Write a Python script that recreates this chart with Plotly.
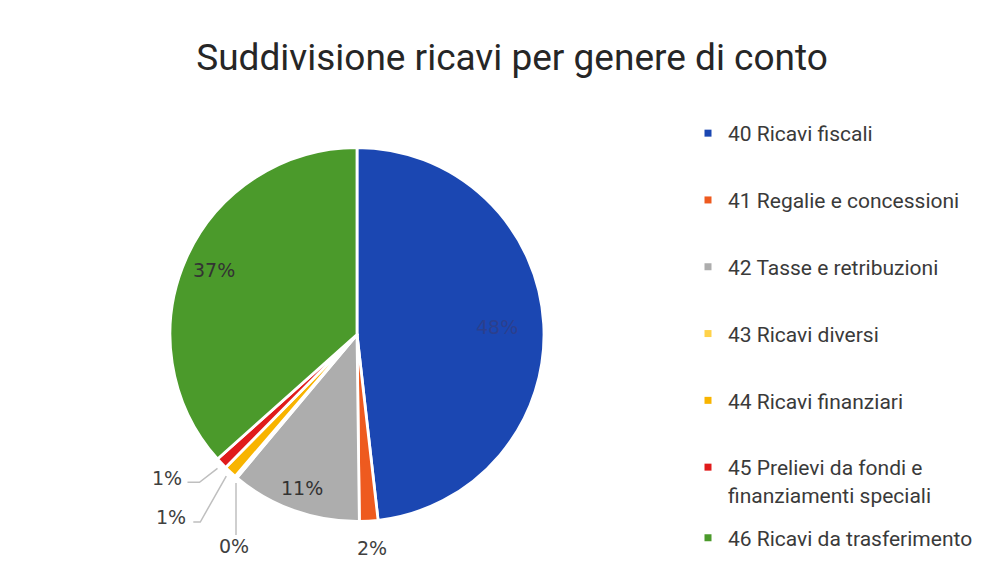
import math
import plotly.graph_objects as go

categories = [
    "40 Ricavi fiscali",
    "41 Regalie e concessioni",
    "42 Tasse e retribuzioni",
    "43 Ricavi diversi",
    "44 Ricavi finanziari",
    "45 Prelievi da fondi e<br>finanziamenti speciali",
    "46 Ricavi da trasferimento",
]
values = [48.2, 1.6, 11.3, 0.2, 1.1, 1.0, 36.6]
colors = ["#1B47B2", "#EE5A1F", "#ADADAD", "#FFD24A", "#F8B400", "#E01B1B", "#4B9A2B"]

W, H = 996, 580
cx, cy, r = 357, 334.5, 187          # pie centre / radius in pixels (layout)
LINE_COL = "#BFBFBF"
# inside labels: radial position as fraction of radius, and text colour
inside = {0: (0.75, "#2B3F8E"), 2: (0.87, "#333333"), 6: (0.84, "#333333")}
# outside labels: pixel offsets from the slice's outer-edge midpoint
outside = {
    1: dict(label=(3, 27), path=None),
    3: dict(label=(-2, 69), path=[(0, 6), (0, 58)]),
    4: dict(label=(-59, 45), path=[(-4, 4), (-30, 50), (-37, 50)]),
    5: dict(label=(-54, 15), path=[(-4, 5), (-22, 19), (-34, 19)]),
}

total = sum(values)

fig = go.Figure()
fig.add_trace(go.Pie(
    labels=categories, values=values, sort=False, direction="clockwise", rotation=0,
    marker=dict(colors=colors, line=dict(color="white", width=2.8)),
    textposition="none", showlegend=False, hoverinfo="label+percent",
    domain=dict(x=[(cx - r) / W, (cx + r) / W], y=[(H - cy - r) / H, (H - cy + r) / H]),
))

px2x = lambda px: px / W
px2y = lambda py: 1 - py / H

cum = 0.0
for i, v in enumerate(values):
    theta = 2 * math.pi * (cum + v / 2) / total
    cum += v
    pct = f"{round(100 * v / total)}%"
    sx, sy = math.sin(theta), -math.cos(theta)
    if i in inside:
        frac, tcol = inside[i]
        fig.add_annotation(
            x=px2x(cx + frac * r * sx), y=px2y(cy + frac * r * sy), xref="paper", yref="paper",
            showarrow=False, text=pct, xanchor="center", yanchor="middle",
            font=dict(family="DejaVu Sans", size=19, color=tcol),
        )
        continue
    ex, ey = cx + r * sx, cy + r * sy
    cfg = outside[i]
    lx, ly = ex + cfg["label"][0], ey + cfg["label"][1]
    fig.add_annotation(
        x=px2x(lx), y=px2y(ly), xref="paper", yref="paper", showarrow=False,
        text=pct, xanchor="center", yanchor="middle",
        font=dict(family="DejaVu Sans", size=19, color="#404040"),
    )
    if cfg["path"]:
        pts = [(px2x(ex + dx), px2y(ey + dy)) for dx, dy in cfg["path"]]
        path = "M " + " L ".join(f"{a:.5f},{b:.5f}" for a, b in pts)
        fig.add_shape(type="path", path=path, xref="paper", yref="paper",
                      line=dict(color=LINE_COL, width=1.5))

for i, (cat, col) in enumerate(zip(categories, colors)):
    fig.add_trace(go.Scatter(
        x=[None], y=[None], mode="markers", name=cat, legendgroup=cat,
        marker=dict(symbol="square", size=7, color=col),
        hoverinfo="skip", legend="legend2" if i == len(categories) - 1 else "legend",
    ))

legend_font = dict(family="Roboto", size=21, color="#3A3A3A")
fig.update_layout(
    width=W, height=H,
    margin=dict(l=0, r=0, t=0, b=0, autoexpand=False),
    paper_bgcolor="white", plot_bgcolor="white",
    title=dict(text="Suddivisione ricavi per genere di conto", x=512 / W, xanchor="center",
               y=1 - 57 / H, yanchor="middle",
               font=dict(family="Roboto", size=37, color="#262626")),
    xaxis=dict(visible=False), yaxis=dict(visible=False),
    legend=dict(x=688 / W, xanchor="left", y=1 - 113 / H, yanchor="top",
                font=legend_font, tracegroupgap=36.5, itemwidth=30, valign="top",
                bgcolor="rgba(0,0,0,0)"),
    legend2=dict(x=688 / W, xanchor="left", y=1 - 538 / H, yanchor="middle",
                 font=legend_font, itemwidth=30, bgcolor="rgba(0,0,0,0)"),
)
fig.write_html("out.html", config={"displayModeBar": False},
               post_script="document.body.style.margin='0';")
